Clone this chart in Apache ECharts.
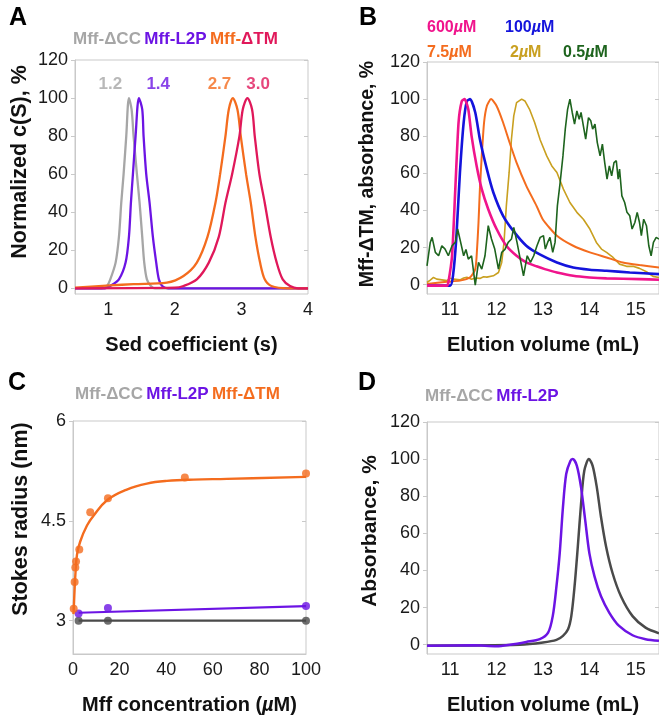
<!DOCTYPE html>
<html>
<head>
<meta charset="utf-8">
<script src="https://cdn.jsdelivr.net/npm/echarts@6/dist/echarts.min.js"></script>
<style>
  html, body { margin: 0; padding: 0; background: #fff; }
  #chart { width: 659px; height: 716px; }
</style>
</head>
<body>
<div id="chart"></div>
<script>
// ---- Panel A: normalized c(S) vs sedimentation coefficient ----
const sedDCC = [[0.5,0],[0.9,0],[0.98,1.2],[1.03,4.7],[1.11,13.5],[1.16,27],[1.195,45],[1.23,60],[1.27,80],[1.31,100],[1.35,94],[1.38,80],[1.43,60],[1.47,45],[1.51,27],[1.54,13.5],[1.58,4.7],[1.64,1.2],[1.7,0],[4,0]];
const sedL2P = [[0.5,0],[0.95,0],[1.03,1.2],[1.16,4.7],[1.26,13.5],[1.31,27],[1.34,45],[1.37,60],[1.41,80],[1.46,100],[1.51,94],[1.53,80],[1.57,60],[1.62,45],[1.67,27],[1.72,13.5],[1.76,4.7],[1.81,1.2],[1.9,0],[4,0]];
const sedDTMlow = [[0.5,0.3],[1.03,1.5],[1.38,2.2],[1.88,3],[2.13,6.5],[2.33,13.5],[2.49,27],[2.61,45],[2.68,60],[2.76,80],[2.81,94],[2.87,100],[2.94,94],[2.99,80],[3.07,60],[3.14,45],[3.21,27],[3.28,13.5],[3.35,4.7],[3.45,1.2],[3.7,0],[4,0]];
const sedDTMhigh = [[0.5,0],[2.0,0.3],[2.13,1.2],[2.33,4.7],[2.51,13.5],[2.66,27],[2.76,45],[2.86,60],[2.97,80],[3.02,94],[3.09,100],[3.16,94],[3.2,80],[3.27,60],[3.35,45],[3.44,27],[3.53,13.5],[3.62,4.7],[3.73,1.2],[3.85,0],[4,0]];
const peakLabels = ['1.2', '1.4', '2.7', '3.0'];
const peakLabelX = [1.03, 1.75, 2.67, 3.25];
const peakLabelY = 107;

// ---- Panel B: Mff-dTM elution profiles at several concentrations ----
const elu600 = [[10.5,-0.5],[10.93,-0.5],[10.96,1.2],[11.04,15.6],[11.11,51.5],[11.18,87.4],[11.25,99],[11.31,100],[11.39,94.5],[11.46,80.2],[11.57,64],[11.68,51.5],[11.82,40.7],[12.0,30],[12.21,21],[12.43,15.6],[12.64,12],[12.86,9.9],[13.04,8.4],[13.3,6.6],[13.65,4.8],[14.0,3.9],[14.37,3.4],[15.08,3.0],[15.5,2.7]];
const elu100 = [[10.5,-0.5],[11.0,-0.5],[11.06,4.8],[11.13,24.6],[11.21,60.5],[11.29,87.4],[11.36,99],[11.43,100],[11.54,92.8],[11.64,78.4],[11.79,62.3],[11.93,49.7],[12.14,37.1],[12.36,29],[12.64,21],[12.93,16.3],[13.3,12],[13.65,9.3],[14.01,8.1],[14.37,7.5],[14.87,6.6],[15.5,5.7]];
const elu7p5 = [[10.5,0.4],[10.93,1.6],[11.21,2.2],[11.43,4],[11.54,8.4],[11.57,15.6],[11.61,33.5],[11.64,51.5],[11.68,69.4],[11.73,87.4],[11.79,96.3],[11.88,100],[12.0,96.3],[12.14,87.4],[12.28,76.6],[12.43,65.8],[12.64,53.3],[12.86,42.5],[13.0,35],[13.3,26.4],[13.65,21],[14.01,17.4],[14.37,14.7],[14.72,12],[15.08,10.6],[15.5,9.3]];
const elu2 = [[10.5,1.2],[10.57,2.5],[10.64,3.9],[10.71,3],[10.82,2.6],[10.93,2.2],[11.0,3.5],[11.07,3],[11.21,2.6],[11.29,3.6],[11.36,4],[11.46,3],[11.54,3.6],[11.64,3.4],[11.72,4.3],[11.79,4.1],[11.93,4.8],[12.04,6.6],[12.11,12],[12.16,22.8],[12.21,42.5],[12.27,60.5],[12.32,78.4],[12.37,91],[12.43,98.1],[12.54,100],[12.61,99],[12.71,94.5],[12.82,87.4],[12.94,78],[13.08,69.4],[13.19,64],[13.3,60.5],[13.44,51.5],[13.58,44.3],[13.73,39],[13.87,35.3],[14.01,30],[14.15,22.8],[14.26,19.2],[14.37,17.4],[14.51,14.7],[14.65,11.1],[14.8,9.9],[14.94,9.9],[15.08,8.8],[15.23,7],[15.37,4.5],[15.5,3.9]];
const elu0p5 = [[10.5,10.2],[10.57,22.8],[10.61,25.5],[10.68,17.4],[10.75,15.6],[10.82,21],[10.89,19.2],[10.96,15.6],[11.04,21],[11.11,22.8],[11.16,30],[11.21,24.6],[11.29,15.6],[11.34,19],[11.39,13.8],[11.46,15.6],[11.54,-0.2],[11.61,12],[11.68,8.4],[11.75,15.6],[11.82,31.8],[11.89,24.6],[11.96,19.2],[12.04,8.4],[12.11,17.4],[12.18,19],[12.25,22.8],[12.32,24.6],[12.37,30.9],[12.44,22.8],[12.51,13.8],[12.58,4.8],[12.66,15.6],[12.73,12],[12.8,15.6],[12.87,21],[12.94,25.5],[13.01,26.4],[13.05,19.2],[13.1,22.8],[13.15,25.5],[13.21,17.4],[13.26,22.8],[13.31,42.5],[13.37,55.1],[13.43,69.4],[13.48,83.8],[13.53,94.5],[13.58,100],[13.63,92.8],[13.68,86.5],[13.73,93.6],[13.78,89.2],[13.82,92.8],[13.87,85.6],[13.92,78.4],[13.98,90],[14.03,88.3],[14.07,83.8],[14.12,86.5],[14.17,76.6],[14.23,69.4],[14.28,75.7],[14.33,65.8],[14.38,56.9],[14.43,64],[14.48,58.7],[14.53,65.8],[14.58,66.8],[14.62,56.9],[14.65,62.3],[14.7,47.9],[14.76,44.3],[14.81,39],[14.87,37.1],[14.92,30],[14.98,33.5],[15.03,39],[15.08,33.5],[15.12,26.4],[15.17,35.3],[15.23,31.8],[15.28,21],[15.33,15.6],[15.38,22.8],[15.44,25.5],[15.5,24.6]];
const concLabels = ['600', '100', '7.5', '2', '0.5'];

// ---- Panel C: Stokes radius vs Mff concentration ----
const dtmConc = [0.3, 0.7, 1.0, 1.3, 2.7, 7.4, 15, 48, 100];
const dtmRadius = [3.18, 3.58, 3.80, 3.89, 4.07, 4.63, 4.84, 5.15, 5.21];
const dtmFit = [[0.2,3.1],[0.3,3.15],[0.57,3.38],[1,3.68],[1.7,3.99],[3.1,4.19],[6,4.43],[8.9,4.58],[14.6,4.81],[23.1,4.97],[31.7,5.06],[40.3,5.10],[51.7,5.12],[66,5.13],[100,5.16]];
const l2pConc = [2.4, 15, 100];
const l2pRadius = [3.11, 3.19, 3.22];
const l2pFit = [[2.4,3.12],[100,3.22]];
const dccConc = [2.4, 15, 100];
const dccRadius = [3.0, 3.0, 3.0];

// ---- Panel D: Mff-dCC and Mff-L2P elution profiles ----
const eluL2P = [[10.5,-0.5],[11.5,-0.3],[12.0,-0.8],[12.29,0],[12.64,1.5],[12.93,3],[13.11,6.5],[13.21,15.4],[13.29,31.4],[13.36,49.2],[13.43,74.1],[13.5,92],[13.59,99],[13.64,100],[13.73,96.4],[13.82,84.8],[13.91,67],[14.0,49.2],[14.11,36.8],[14.25,26.1],[14.43,17.2],[14.64,10.1],[14.93,5.1],[15.21,3],[15.5,2.1]];
const eluDCC = [[10.5,-0.5],[12.5,0],[13.0,1.2],[13.29,2.6],[13.43,4.8],[13.54,8.3],[13.61,15.4],[13.68,31.4],[13.75,52.8],[13.82,75.9],[13.89,93.7],[13.99,100],[14.07,96.4],[14.16,84.8],[14.25,68.8],[14.36,52.8],[14.5,38.5],[14.68,26.1],[14.93,15.4],[15.21,9.2],[15.5,6.2]];

// tick values
const pctTicks = [0, 20, 40, 60, 80, 100, 120];
const sedTicks = [1, 2, 3, 4];
const eluTicks = [11, 12, 13, 14, 15];
const radiusTicks = [3, 4.5, 6];
const concTicks = [0, 20, 40, 60, 80, 100];

const FONT = '"Liberation Sans", Arial, Helvetica, sans-serif';
const frame = '#c9c9c9';
const C = {
  lightGray: '#a6a6a6',
  darkGray: '#4a4a4a',
  purple: '#6c14e4',
  orange: '#f46c1e',
  crimson: '#e0185a',
  pink: '#f0148c',
  blue: '#1414dc',
  gold: '#c9a020',
  green: '#1e641e'
};

const labelStyle = { fontFamily: FONT, fontSize: 18, color: '#1a1a1a' };
const nameStyle = {
  fontFamily: FONT, fontSize: 20, fontWeight: 'bold', color: '#111',
  rich: { it: { fontFamily: FONT, fontSize: 20, fontWeight: 'bold', fontStyle: 'italic', color: '#111' } }
};

function makeX(gridIndex, min, max, ticks, name) {
  return {
    type: 'value', gridIndex, min, max,
    name, nameLocation: 'middle', nameGap: 41, nameTextStyle: nameStyle,
    axisLine: { show: true, lineStyle: { color: frame } },
    axisTick: { show: false },
    splitLine: { show: false },
    axisLabel: { ...labelStyle, margin: 7, customValues: ticks }
  };
}
function makeY(gridIndex, min, max, ticks, fmt) {
  return {
    type: 'value', gridIndex, min, max,
    axisLine: { show: true, lineStyle: { color: frame } },
    axisTick: { show: true, length: 4, customValues: ticks, lineStyle: { color: frame } },
    splitLine: { show: false },
    axisLabel: { ...labelStyle, margin: 7, customValues: ticks, formatter: fmt }
  };
}
function makeYRight(gridIndex, min, max, ticks) {
  return {
    type: 'value', gridIndex, min, max, position: 'right',
    axisLine: { show: false },
    axisTick: { show: true, inside: true, length: 4, customValues: ticks, lineStyle: { color: frame } },
    splitLine: { show: false },
    axisLabel: { show: false }
  };
}

function line(xi, yi, data, color, width, smooth) {
  return {
    type: 'line', xAxisIndex: xi, yAxisIndex: yi, data,
    showSymbol: false, symbol: 'none', smooth: smooth || false,
    lineStyle: { color, width }, silent: true, animation: false
  };
}
function dots(xi, yi, xs, ys, color) {
  return {
    type: 'scatter', xAxisIndex: xi, yAxisIndex: yi,
    data: xs.map((x, i) => [x, ys[i]]),
    symbolSize: 8, itemStyle: { color }, silent: true, animation: false
  };
}

const gridBox = { show: true, borderColor: frame, borderWidth: 1, containLabel: false };
const peakColors = [C.lightGray, C.purple, C.orange, C.crimson];

function legendText(x, y, text) {
  const base = { fontFamily: FONT, fontSize: 17, fontWeight: 'bold' };
  return {
    type: 'text', left: x, top: y,
    style: {
      text,
      rich: {
        g: { ...base, fill: C.lightGray },
        p: { ...base, fill: C.purple },
        o: { ...base, fill: C.orange },
        r: { ...base, fill: C.crimson }
      }
    }
  };
}
function concText(x, y, value, color) {
  const base = { fontFamily: FONT, fontSize: 16, fontWeight: 'bold', fill: color };
  return {
    type: 'text', left: x, top: y,
    style: {
      text: '{n|' + value + '}{u|\u00b5}{n|M}',
      rich: { n: base, u: { ...base, fontStyle: 'italic' } }
    }
  };
}
function yName(cx, cy, text, size) {
  return {
    type: 'text', x: cx, y: cy, rotation: Math.PI / 2,
    style: {
      text, align: 'center', verticalAlign: 'middle',
      font: 'bold ' + size + 'px ' + FONT, fill: '#111'
    }
  };
}

const option = {
  backgroundColor: '#fff',
  animation: false,
  grid: [
    { ...gridBox, left: 75, top: 60, width: 233, height: 234 },
    { ...gridBox, left: 427, top: 62, width: 233, height: 232 },
    { ...gridBox, left: 73, top: 421, width: 233, height: 233 },
    { ...gridBox, left: 427, top: 422, width: 233, height: 233 }
  ],
  xAxis: [
    makeX(0, 0.5, 4, sedTicks, 'Sed coefficient (s)'),
    makeX(1, 10.5, 15.5, eluTicks, 'Elution volume (mL)'),
    makeX(2, 0, 100, concTicks, 'Mff concentration ({it|\u00b5}M)'),
    makeX(3, 10.5, 15.5, eluTicks, 'Elution volume (mL)')
  ],
  yAxis: [
    makeY(0, -3, 120, pctTicks),
    makeY(1, -5, 120, pctTicks),
    makeY(2, 2.5, 6, radiusTicks, v => String(v)),
    makeY(3, -5, 120, pctTicks),
    makeYRight(0, -3, 120, pctTicks),
    makeYRight(1, -5, 120, pctTicks),
    makeYRight(2, 2.5, 6, radiusTicks),
    makeYRight(3, -5, 120, pctTicks)
  ],
  series: [
    // A
    line(0, 0, sedDCC, C.lightGray, 2.3, 0.3),
    line(0, 0, sedL2P, C.purple, 2.3, 0.3),
    line(0, 0, sedDTMlow, C.orange, 2.3, 0.3),
    line(0, 0, sedDTMhigh, C.crimson, 2.3, 0.3),
    {
      type: 'scatter', xAxisIndex: 0, yAxisIndex: 0, symbolSize: 0, silent: true,
      data: peakLabels.map((t, i) => ({
        value: [peakLabelX[i], peakLabelY],
        label: {
          show: true, position: 'inside', formatter: t,
          fontFamily: FONT, fontSize: 17, fontWeight: 'bold', color: peakColors[i]
        }
      }))
    },
    // B
    line(1, 1, elu2, C.gold, 1.6),
    line(1, 1, elu7p5, C.orange, 2, 0.2),
    line(1, 1, elu100, C.blue, 2.6, 0.2),
    line(1, 1, elu600, C.pink, 2.6, 0.2),
    line(1, 1, elu0p5, C.green, 1.6),
    // C
    line(2, 2, dtmFit, C.orange, 2.4, 0.4),
    line(2, 2, l2pFit, C.purple, 2.2),
    line(2, 2, dccConc.map((x, i) => [x, dccRadius[i]]), C.darkGray, 2.2),
    dots(2, 2, dccConc, dccRadius, C.darkGray),
    dots(2, 2, l2pConc, l2pRadius, C.purple),
    dots(2, 2, dtmConc, dtmRadius, C.orange),
    // D
    line(3, 3, eluDCC, C.darkGray, 2.5, 0.3),
    line(3, 3, eluL2P, C.purple, 2.5, 0.3)
  ],
  graphic: [
    { type: 'text', left: 9, top: 6, style: { text: 'A', font: 'bold 25px ' + FONT, fill: '#000' } },
    { type: 'text', left: 359, top: 6, style: { text: 'B', font: 'bold 25px ' + FONT, fill: '#000' } },
    { type: 'text', left: 8, top: 371, style: { text: 'C', font: 'bold 25px ' + FONT, fill: '#000' } },
    { type: 'text', left: 358, top: 371, style: { text: 'D', font: 'bold 25px ' + FONT, fill: '#000' } },
    yName(20, 162, 'Normalized c(S), %', 21.5),
    yName(368, 174, 'Mff-\u0394TM, absorbance, %', 19.5),
    yName(21, 519, 'Stokes radius (nm)', 21.5),
    yName(370, 531, 'Absorbance, %', 21),
    legendText(73, 31, '{g|Mff-\u0394CC} {p|Mff-L2P} {o|Mff-}{r|\u0394TM}'),
    legendText(75, 386, '{g|Mff-\u0394CC} {p|Mff-L2P} {o|Mff-\u0394TM}'),
    legendText(425, 388, '{g|Mff-\u0394CC} {p|Mff-L2P}'),
    concText(427, 20, concLabels[0], C.pink),
    concText(505, 20, concLabels[1], C.blue),
    concText(427, 45, concLabels[2], C.orange),
    concText(510, 45, concLabels[3], C.gold),
    concText(563, 45, concLabels[4], C.green)
  ]
};

const chart = echarts.init(document.getElementById('chart'));
chart.setOption(option);
</script>
</body>
</html>
